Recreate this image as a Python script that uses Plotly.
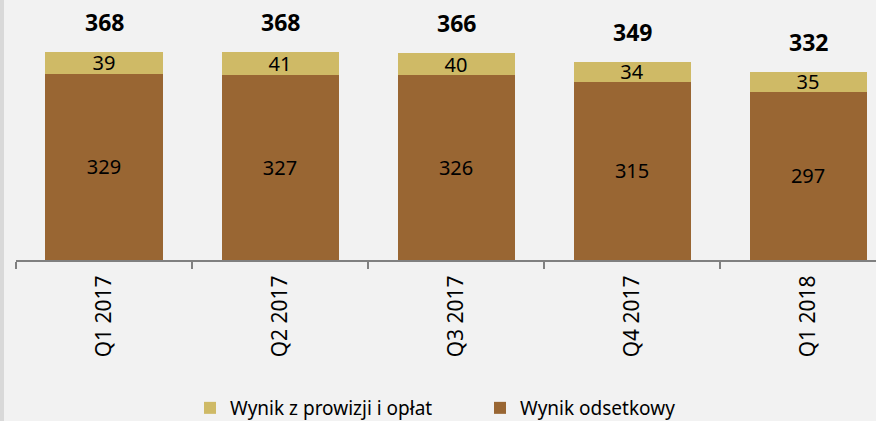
import plotly.graph_objects as go

quarters = ["Q1 2017", "Q2 2017", "Q3 2017", "Q4 2017", "Q1 2018"]
interest = [329, 327, 326, 315, 297]
fees = [39, 41, 40, 34, 35]
totals = [368, 368, 366, 349, 332]

brown = "#996633"
gold = "#CFBA66"
font_name = "Noto Sans"


def stacked_bar(values, name, color, rank):
    return go.Bar(
        x=quarters,
        y=values,
        name=name,
        marker=dict(color=color, line=dict(width=0)),
        text=values,
        textposition="inside",
        insidetextanchor="middle",
        textangle=0,
        constraintext="none",
        textfont=dict(size=20, color="#000000", family=font_name),
        width=0.665,
        legendrank=rank,
    )


fig = go.Figure()
fig.add_trace(stacked_bar(interest, "Wynik odsetkowy", brown, 2))
fig.add_trace(stacked_bar(fees, "Wynik z prowizji i opłat", gold, 1))

for q, t in zip(quarters, totals):
    fig.add_annotation(
        x=q, y=t, text=f"<b>{t}</b>", showarrow=False,
        yanchor="bottom", yshift=12,
        font=dict(size=23, color="#000000", family=font_name),
    )

# thin darker strip on the left edge
fig.add_shape(
    type="rect", xref="paper", yref="paper",
    x0=-16 / 860, x1=-12 / 860, y0=-1, y1=1.1,
    fillcolor="#D9D9D9", line=dict(width=0), layer="below",
)

fig.update_layout(
    width=876,
    height=421,
    barmode="stack",
    paper_bgcolor="#F2F2F2",
    plot_bgcolor="#F2F2F2",
    margin=dict(l=16, r=0, t=0, b=161, autoexpand=False),
    font=dict(family=font_name, color="#000000"),
    showlegend=True,
    legend=dict(
        orientation="h",
        x=(190 - 16) / 860,
        xanchor="left",
        yref="container",
        y=13 / 421,
        yanchor="middle",
        font=dict(size=19),
        traceorder="normal",
        entrywidth=245,
        bgcolor="rgba(0,0,0,0)",
    ),
    xaxis=dict(
        range=[-0.5, 4.386],
        tickangle=-90,
        tickson="boundaries",
        ticks="outside",
        ticklen=7,
        tickwidth=2,
        tickcolor="#808080",
        ticklabelstandoff=5,
        showline=True,
        linecolor="#808080",
        linewidth=2,
        tickfont=dict(size=21, color="#000000"),
        showgrid=False,
        fixedrange=True,
        automargin=False,
    ),
    yaxis=dict(
        range=[0, 459],
        visible=False,
        showgrid=False,
        zeroline=False,
        fixedrange=True,
    ),
)

fig.write_html(
    "out.html",
    config={"displayModeBar": False},
    post_script="document.body.style.margin='0';document.body.style.background='#F2F2F2';",
)
